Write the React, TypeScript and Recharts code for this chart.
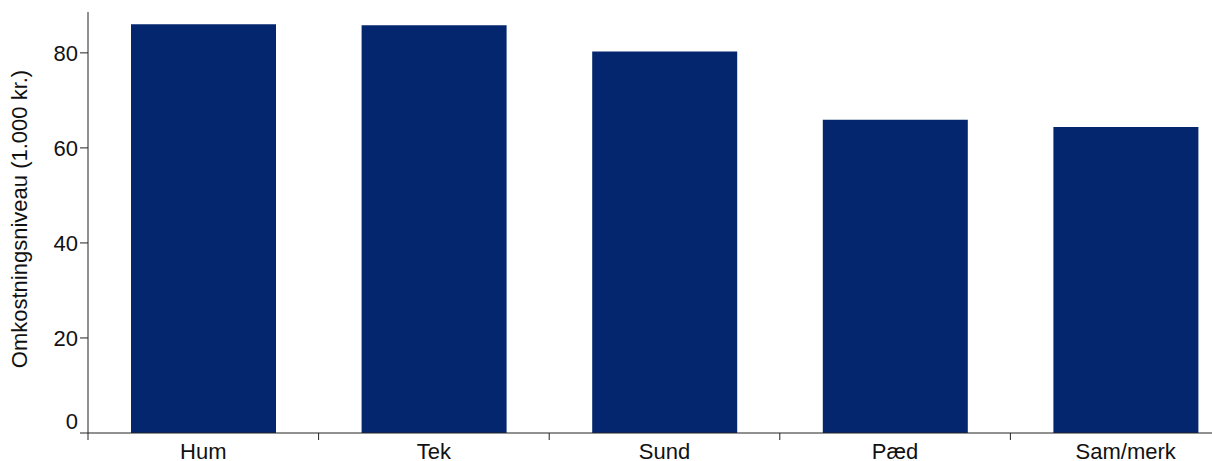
import React from "react";
import { BarChart, Bar, XAxis, YAxis, Label } from "recharts";

const categories = ["Hum", "Tek", "Sund", "Pæd", "Sam/merk"];
const costs = [86.0, 85.8, 80.3, 65.9, 64.4];
const yTicks = [0, 20, 40, 60, 80];

const data = categories.map((name, i) => ({ name, cost: costs[i] }));

const FONT = "'Liberation Sans', Arial, sans-serif";
const CHART_W = 1260;
const CHART_H = 461;
const Y_W = 88;
const MARGIN = { top: 12, right: 19, left: 0, bottom: 0 };
const BAND = (CHART_W - Y_W - MARGIN.left - MARGIN.right) / categories.length;

function XTick(props: any) {
  const { x, y, payload } = props;
  const left = x - BAND / 2;
  return (
    <g>
      <line x1={left} x2={left} y1={y} y2={y + 7} stroke="#222" strokeWidth={1} />
      <text x={x} y={y + 26} textAnchor="middle" fontSize={22} fontFamily={FONT} fill="#111">
        {payload.value}
      </text>
    </g>
  );
}

function YTick(props: any) {
  const { x, y, payload } = props;
  const shift = payload.value === 0 ? -12 : 0;
  return (
    <text x={x} y={y + shift + 8} textAnchor="end" fontSize={22} fontFamily={FONT} fill="#111">
      {payload.value}
    </text>
  );
}

function YLabel() {
  return (
    <text
      x={27}
      y={219}
      transform="rotate(-90, 27, 219)"
      textAnchor="middle"
      fontSize={22}
      fontFamily={FONT}
      fill="#111"
    >
      Omkostningsniveau (1.000 kr.)
    </text>
  );
}

export default function App() {
  return (
    <div
      style={{
        position: "fixed",
        left: 0,
        top: 0,
        width: 1212,
        height: 461,
        overflow: "hidden",
        background: "#fff",
      }}
    >
      <BarChart width={CHART_W} height={CHART_H} data={data} margin={MARGIN}>
        <XAxis
          dataKey="name"
          height={28}
          tickLine={false}
          tickSize={0}
          tickMargin={0}
          axisLine={{ stroke: "#222" }}
          tick={<XTick />}
          interval={0}
        />
        <YAxis
          width={Y_W}
          domain={[0, 88.6]}
          ticks={yTicks}
          tickSize={8}
          tickMargin={2}
          tickLine={{ stroke: "#222" }}
          axisLine={{ stroke: "#222" }}
          tick={<YTick />}
        >
          <Label content={<YLabel />} />
        </YAxis>
        <Bar dataKey="cost" fill="#03266F" barSize={145} isAnimationActive={false} />
      </BarChart>
    </div>
  );
}
